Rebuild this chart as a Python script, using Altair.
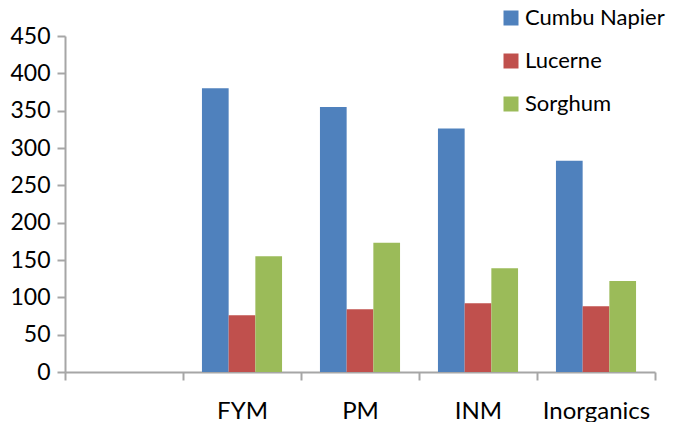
import altair as alt
import pandas as pd

categories = [" ", "FYM", "PM", "INM", "Inorganics"]
treatments = ["FYM", "PM", "INM", "Inorganics"]
series = ["Cumbu Napier", "Lucerne", "Sorghum"]
cumbu_napier = [380, 355, 326, 283]
lucerne = [76, 84, 92, 88]
sorghum = [155, 173, 139, 122]
colors = ["#4F81BD", "#C0504D", "#9BBB59"]
y_ticks = [0, 50, 100, 150, 200, 250, 300, 350, 400, 450]

rows = []
for i, t in enumerate(treatments):
    for s, vals in zip(series, [cumbu_napier, lucerne, sorghum]):
        rows.append({"cat": t, "series": s, "value": vals[i]})
df = pd.DataFrame(rows)

FONT = "Lato"

chart = alt.Chart(df).mark_bar().encode(
    x=alt.X("cat:N", title=None,
            scale=alt.Scale(domain=categories, paddingInner=0, paddingOuter=0),
            axis=alt.Axis(tickBand="extent", labelAngle=0, labelFont=FONT, labelFontSize=24,
                          labelColor="#000000", labelPadding=19, tickSize=8,
                          domainColor="#A6A6A6", tickColor="#A6A6A6", domainWidth=2, tickWidth=2)),
    xOffset=alt.XOffset("series:N", sort=series,
                        scale=alt.Scale(paddingInner=0, paddingOuter=0.71)),
    y=alt.Y("value:Q", title=None,
            scale=alt.Scale(domain=[0, 450], nice=False),
            axis=alt.Axis(values=y_ticks, grid=False, labelFont=FONT, labelFontSize=23,
                          labelColor="#000000", labelPadding=7, tickSize=8,
                          domainColor="#A6A6A6", tickColor="#A6A6A6", domainWidth=2, tickWidth=2)),
    color=alt.Color("series:N", sort=series,
                    scale=alt.Scale(domain=series, range=colors),
                    legend=alt.Legend(title=None, orient="none", legendX=435, legendY=-29,
                                      symbolType="square", symbolSize=225, symbolStrokeWidth=0,
                                      labelFont=FONT, labelFontSize=22, labelColor="#000000",
                                      labelOffset=3, labelLimit=400, rowPadding=21, padding=0)),
).properties(
    width=590, height=336,
    autosize=alt.AutoSizeParams(type="none"),
    padding={"left": 57, "top": 28, "right": 22, "bottom": 50},
).configure_view(stroke=None)

chart.save("out.html", embed_options={"renderer": "svg", "actions": False})
